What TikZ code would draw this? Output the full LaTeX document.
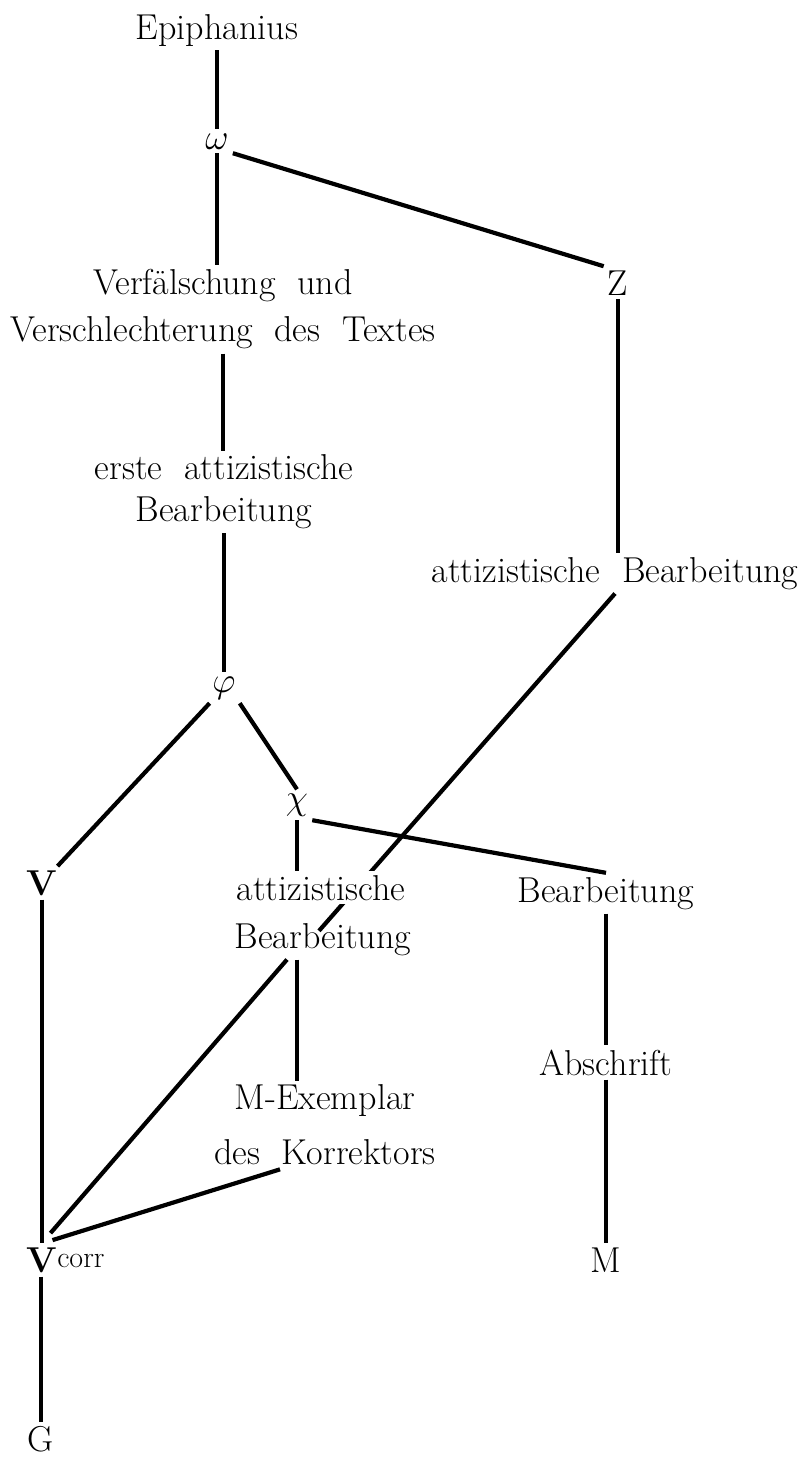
\RequirePackage{fix-cm}
\documentclass[tikz,border=0pt]{standalone}
\usepackage{tikz}

\begin{document}
\begin{tikzpicture}[x=1pt,y=-1pt]
    \tikzset{
      textnode/.style={inner sep=4pt,align=center,font={\fontsize{36}{47}\selectfont\spaceskip=0.6em\relax}},
      branch/.style={line width=4.2pt}
    }
    \fill[white](0,0) rectangle (801,1457);
    \useasboundingbox(0,0) rectangle (801,1457);
    \node[textnode,anchor=base](epiphanius) at (217,39){Epiphanius};
    \node[textnode,anchor=base](omega) at (217,149){$\omega$};
    \node[textnode](verf) at (223,309.5){Verfälschung und\\Verschlechterung des Textes};
    \node[textnode,anchor=base](z) at (618,295){Z};
    \node[textnode](erste) at (224,492){erste attizistische\\[-5pt]Bearbeitung};
    \node[textnode,anchor=base](attright) at (615,582){attizistische Bearbeitung};
    \node[textnode,anchor=base](phi) at (224,692){$\varphi$};
    \node[textnode,anchor=base](chi) at (297,809){$\chi$};
    \node[textnode,anchor=base](v) at (42,895){\textbf{V}};
    \node[textnode,anchor=base](attmidb) at (323,948){Bearbeitung};
    \node[textnode,anchor=base](bearright) at (606,902){Bearbeitung};
    \node[textnode,anchor=base](abschrift) at (606,1075){Abschrift};
    \node[textnode](mex) at (325,1125){M-Exemplar\\[8pt]des Korrektors};
    \node[textnode,anchor=base west](vcorr) at (22.5,1272){\textbf{V}\raisebox{5pt}{\fontsize{30}{30}\selectfont corr}};
    \node[textnode,anchor=base](m) at (606,1272){M};
    \node[textnode,anchor=base](g) at (41,1451){G};

    \draw[branch](epiphanius) -- (omega);
    \draw[branch](omega.south) -- (omega.south |- verf.north);
    \draw[branch](omega.south east) -- (z.north west);
    \draw[branch](verf.south) -- (verf.south |- erste.north);
    \draw[branch](z) -- (z |- attright.north);
    \draw[branch](erste.south) -- (erste.south |- phi.north);
    \draw[branch](phi) -- (v);
    \draw[branch](phi.south east) -- (chi.north);
    \draw[branch](chi.south east) -- (bearright.north);
    \draw[branch](bearright) -- (abschrift);
    \draw[branch](abschrift) -- (m);
    \draw[branch](v) -- (v |- vcorr.north);
    \draw[branch](attmidb.south -| chi.south) -- (mex.north -| chi.south);
    \draw[branch]([xshift=-36pt]attmidb.south) -- ([xshift=28pt,yshift=10pt]vcorr.north west);
    \draw[branch]([xshift=-45pt]mex.south) -- ([xshift=30pt,yshift=3pt]vcorr.north west);
    \draw[branch](vcorr.south -| g) -- (g);
    \draw[branch](attright.south) -- ([xshift=-4pt,yshift=-12pt]attmidb.north);
    \node[textnode,anchor=base,fill=white](attmida) at (321,900){attizistische};
    \draw[branch](chi.south) -- (chi.south |- attmida.north);
\end{tikzpicture}
\end{document}
